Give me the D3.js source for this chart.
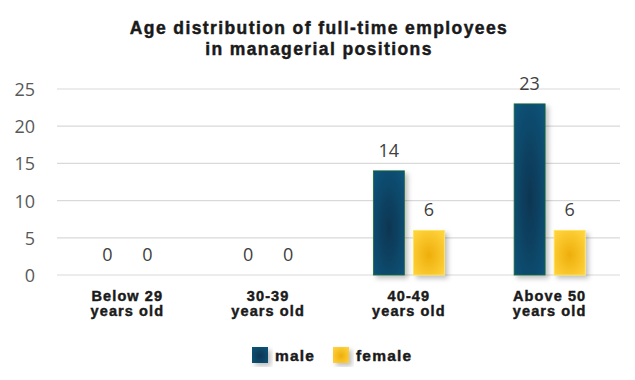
<!DOCTYPE html>
<html><head><meta charset="utf-8">
<script src="https://cdn.jsdelivr.net/npm/d3@7"></script>
<style>body{margin:0;background:#fff}svg{display:block}</style>
</head><body>
<script>
const categories = [["Below 29","years old"],["30-39","years old"],["40-49","years old"],["Above 50","years old"]];
const seriesNames = ["male","female"];
const male = [0,0,14,23];
const female = [0,0,6,6];
const yTicks = [0,5,10,15,20,25];
const titleLines = ["Age distribution of full-time employees","in managerial positions"];

const W=635,H=380;
const svg=d3.select("body").append("svg").attr("width",W).attr("height",H);
const defs=svg.append("defs");
function radial(id,inner,outer){
  const g=defs.append("radialGradient").attr("id",id).attr("cx","50%").attr("cy","55%").attr("r","65%");
  g.append("stop").attr("offset","0%").attr("stop-color",inner);
  g.append("stop").attr("offset","100%").attr("stop-color",outer);
}
radial("gMale","#073552","#0a5277");
radial("gFemale","#eeae0a","#ffd23c");
const f=defs.append("filter").attr("id","sh").attr("x","-30%").attr("y","-10%").attr("width","160%").attr("height","130%");
f.append("feDropShadow").attr("dx",3).attr("dy",3).attr("stdDeviation",2.5).attr("flood-color","#000").attr("flood-opacity",0.25);

const x=d3.scaleBand().domain(d3.range(categories.length)).range([57,620]);
const y=d3.scaleLinear().domain([0,25]).range([275,89]);
const barW=31, gap=9;
const heavy = sel => sel.attr("font-family","'Liberation Sans', Arial, sans-serif").attr("font-weight","bold")
  .attr("fill","#1a1a1a").attr("stroke","#1a1a1a").attr("stroke-width",0.45);

// gridlines
svg.append("g").selectAll("line").data(yTicks).join("line")
  .attr("x1",57).attr("x2",620).attr("y1",d=>y(d)).attr("y2",d=>y(d))
  .attr("stroke","#d9d9d9").attr("stroke-width",1.2);

// y tick labels
svg.append("g").selectAll("text").data(yTicks).join("text")
  .attr("x",35).attr("y",d=>y(d)+7).attr("text-anchor","end")
  .attr("font-family","'Open Sans', sans-serif").attr("font-size",18).attr("fill","#595959")
  .text(d=>d);

const series=[{name:"male",vals:male,fill:"url(#gMale)",stroke:"#1f6b3a",off:-(barW+gap)/2},
              {name:"female",vals:female,fill:"url(#gFemale)",stroke:"#ffe65a",off:(barW+gap)/2}];
series.forEach(s=>{
  const g=svg.append("g");
  g.selectAll("rect").data(s.vals.map((v,i)=>({v,i})).filter(d=>d.v>0)).join("rect")
    .attr("x",d=>x(d.i)+x.bandwidth()/2+s.off-barW/2).attr("width",barW)
    .attr("y",d=>y(d.v)).attr("height",d=>y(0)-y(d.v))
    .attr("fill",s.fill).attr("stroke",s.stroke).attr("stroke-width",0.8)
    .attr("filter","url(#sh)");
  g.selectAll("text").data(s.vals.map((v,i)=>({v,i}))).join("text")
    .attr("x",d=>x(d.i)+x.bandwidth()/2+s.off).attr("y",d=>y(d.v)-14)
    .attr("text-anchor","middle").attr("font-family","'Open Sans', sans-serif")
    .attr("font-size",18).attr("fill","#404040").text(d=>d.v);
});

// category labels
const cl=svg.append("g").selectAll("text").data(categories).join("text")
  .attr("text-anchor","middle").attr("font-size",14.5).attr("letter-spacing",1.1).call(heavy);
cl.each(function(d,i){
  const t=d3.select(this);
  d.forEach((line,k)=>t.append("tspan").attr("x",x(i)+x.bandwidth()/2).attr("y",301+k*15).text(line));
});

// title
svg.append("g").selectAll("text").data(titleLines).join("text")
  .attr("text-anchor","middle").attr("font-size",17.5).attr("letter-spacing",1.4).call(heavy)
  .attr("x",319).attr("y",(d,i)=>34+i*20.5).text(d=>d);

// legend
const lg=svg.append("g");
const legX=[252,333];
series.forEach((s,i)=>{
  lg.append("rect").attr("x",legX[i]).attr("y",347).attr("width",16).attr("height",16)
    .attr("fill",s.fill).attr("filter","url(#sh)");
  lg.append("text").attr("x",legX[i]+23).attr("y",361).attr("font-size",15.5).attr("letter-spacing",1.2)
    .call(heavy).text(s.name);
});
</script>
</body></html>
